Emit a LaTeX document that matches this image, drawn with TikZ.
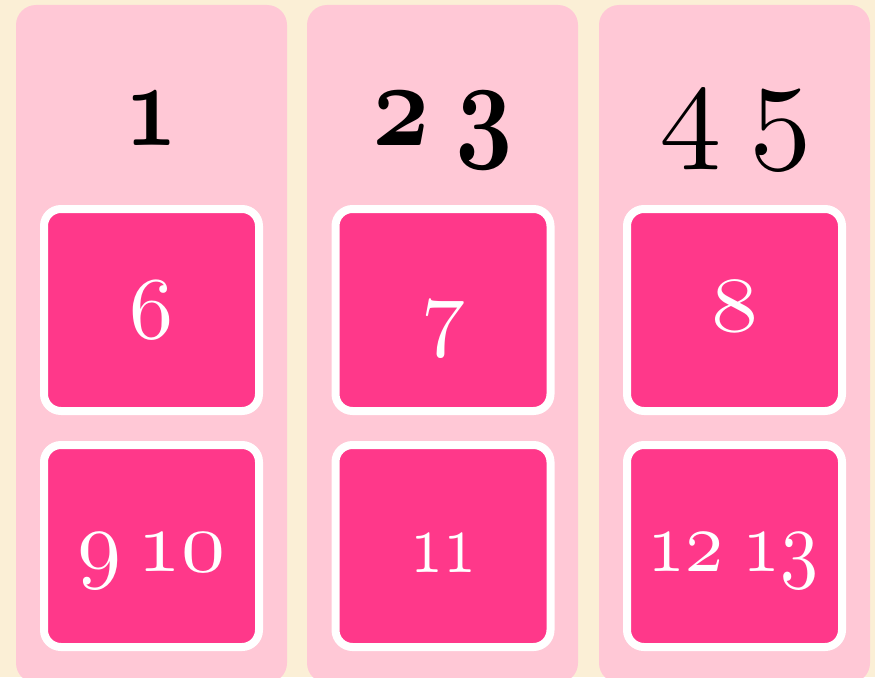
\documentclass[tikz,border=0pt]{standalone}
\usepackage{graphicx}
\definecolor{bgcream}{HTML}{FBEFD6}
\definecolor{colpink}{HTML}{FFC8D6}
\definecolor{magcard}{HTML}{FF388A}
% #1 series, #2 horizontal scale, #3 vertical scale, #4 digits
\newcommand\osnum[4]{\scalebox{#2}[#3]{\fontencoding{OML}\fontfamily{cmm}\fontseries{#1}\fontshape{it}\fontsize{10}{12}\selectfont #4}}
\begin{document}
\begin{tikzpicture}[x=1pt,y=-1pt,
  colbox/.style={fill=colpink, rounded corners=20pt, minimum width=271pt, minimum height=678pt, inner sep=0pt},
  card/.style={draw=white, line width=8pt, fill=magcard, rounded corners=17pt, minimum width=215pt, minimum height=202pt, inner sep=0pt},
  cardtxt/.style={anchor=base, text=white, inner sep=0pt},
  headtxt/.style={anchor=base, text=black, inner sep=0pt}]
\useasboundingbox (0,0) rectangle (875,677);
\clip (0,0) rectangle (875,677);
\fill[bgcream] (0,0) rectangle (875,677);
% columns
\node[colbox] (c1) at (151.5,344) {};
\node[colbox] (c2) at (442.5,344) {};
\node[colbox] (c3) at (734.5,344) {};
% headers
\node[headtxt] (h1) at (151.5,145) {\osnum{b}{9}{12}{1}};
\node[headtxt] (h2) at (442.5,145) {\osnum{b}{10}{12}{2\hspace{0.22em}3}};
\node[headtxt] (h3) at (736,145) {\osnum{m}{12.5}{12.5}{4\hspace{0.22em}5}};
% cards
\node[card] (b6) at (151.5,310) {};
\node[card] (b7) at (443,310) {};
\node[card] (b8) at (734.5,310) {};
\node[card] (b9) at (151.5,546) {};
\node[card] (b11) at (443,546) {};
\node[card] (b12) at (734.5,546) {};
% card texts
\node[cardtxt] (t6) at (151.5,338) {\osnum{m}{8.8}{8.8}{6}};
\node[cardtxt] (t7) at (443,339) {\osnum{m}{8.8}{8.8}{7}};
\node[cardtxt] (t8) at (734.5,331) {\osnum{m}{9.4}{7.8}{8}};
\node[cardtxt] (t9) at (151.5,571) {\osnum{m}{8.8}{8.8}{9\hspace{0.18em}10}};
\node[cardtxt] (t11) at (443,572) {\osnum{m}{6.6}{8.8}{11}};
\node[cardtxt] (t12) at (733,571) {\osnum{m}{7.6}{8.8}{12\hspace{0.25em}13}};
\end{tikzpicture}
\end{document}
